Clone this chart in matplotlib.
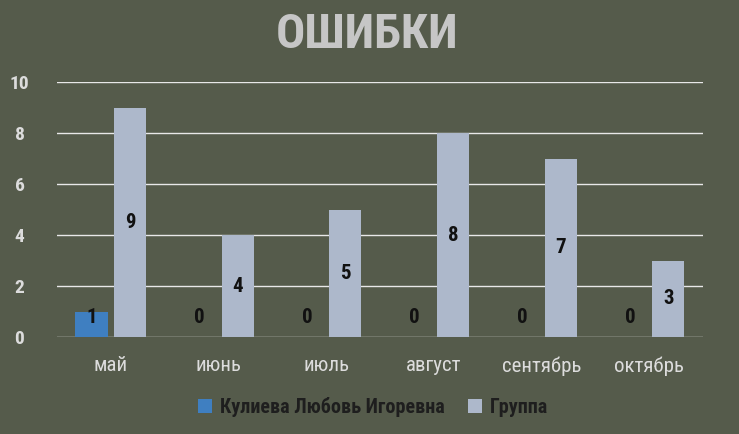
import matplotlib.pyplot as plt
import numpy as np

months = ["май", "июнь", "июль", "август", "сентябрь", "октябрь"]
person = [1, 0, 0, 0, 0, 0]
group = [9, 4, 5, 8, 7, 3]
person_name = "Кулиева Любовь Игоревна"
group_name = "Группа"
yticks = [0, 2, 4, 6, 8, 10]

FONT = ["Roboto Condensed", "Liberation Sans Narrow", "Roboto", "DejaVu Sans"]
plt.rcParams["font.family"] = FONT

bg = "#555b4b"
fig = plt.figure(figsize=(7.39, 4.34), dpi=100, facecolor=bg)
ax = fig.add_axes([0.0771, 0.2235, 0.8742, 0.5875], facecolor=bg)

x = np.arange(len(months))
w = 0.3
off = 0.178
b1 = ax.bar(x - off, person, w, color="#3f7fc1", label=person_name, zorder=3)
b2 = ax.bar(x + off, group, w, color="#adb8cb", label=group_name, zorder=3)

for bars, vals in ((b1, person), (b2, group)):
    for rect, v in zip(bars, vals):
        ax.text(rect.get_x() + rect.get_width() / 2, max(v / 2, 0.75), str(v),
                ha="center", va="center", fontsize=15, fontweight="bold",
                color="#111111", zorder=4)

ax.set_xlim(-0.5, len(months) - 0.5)
ax.set_ylim(0, 10)
ax.set_yticks(yticks)
ax.set_xticks(x)
ax.set_xticklabels(months)
ax.yaxis.grid(True, color="#e8e8e8", linewidth=1, zorder=0)
for s in ax.spines.values():
    s.set_visible(False)
ax.tick_params(length=0)
ax.tick_params(axis="y", pad=27, labelsize=14, labelcolor="#dcdcdc")
ax.tick_params(axis="x", pad=14, labelsize=15, labelcolor="#dcdcdc")
for lab in ax.get_yticklabels():
    lab.set_fontweight("bold")
    lab.set_horizontalalignment("center")

fig.text(0.497, 0.92, "ОШИБКИ", ha="center", va="center", fontsize=35,
         fontweight="bold", color="#c6c6c6")

leg = fig.legend(loc="center", bbox_to_anchor=(0.505, 0.062), ncol=2, frameon=False,
                 fontsize=14.5, handlelength=0.7, handleheight=0.7, columnspacing=1.15,
                 handletextpad=0.4)
for t in leg.get_texts():
    t.set_color("#1e1e1e")
    t.set_fontweight("bold")

fig.savefig("out.png", dpi=100, facecolor=bg)
